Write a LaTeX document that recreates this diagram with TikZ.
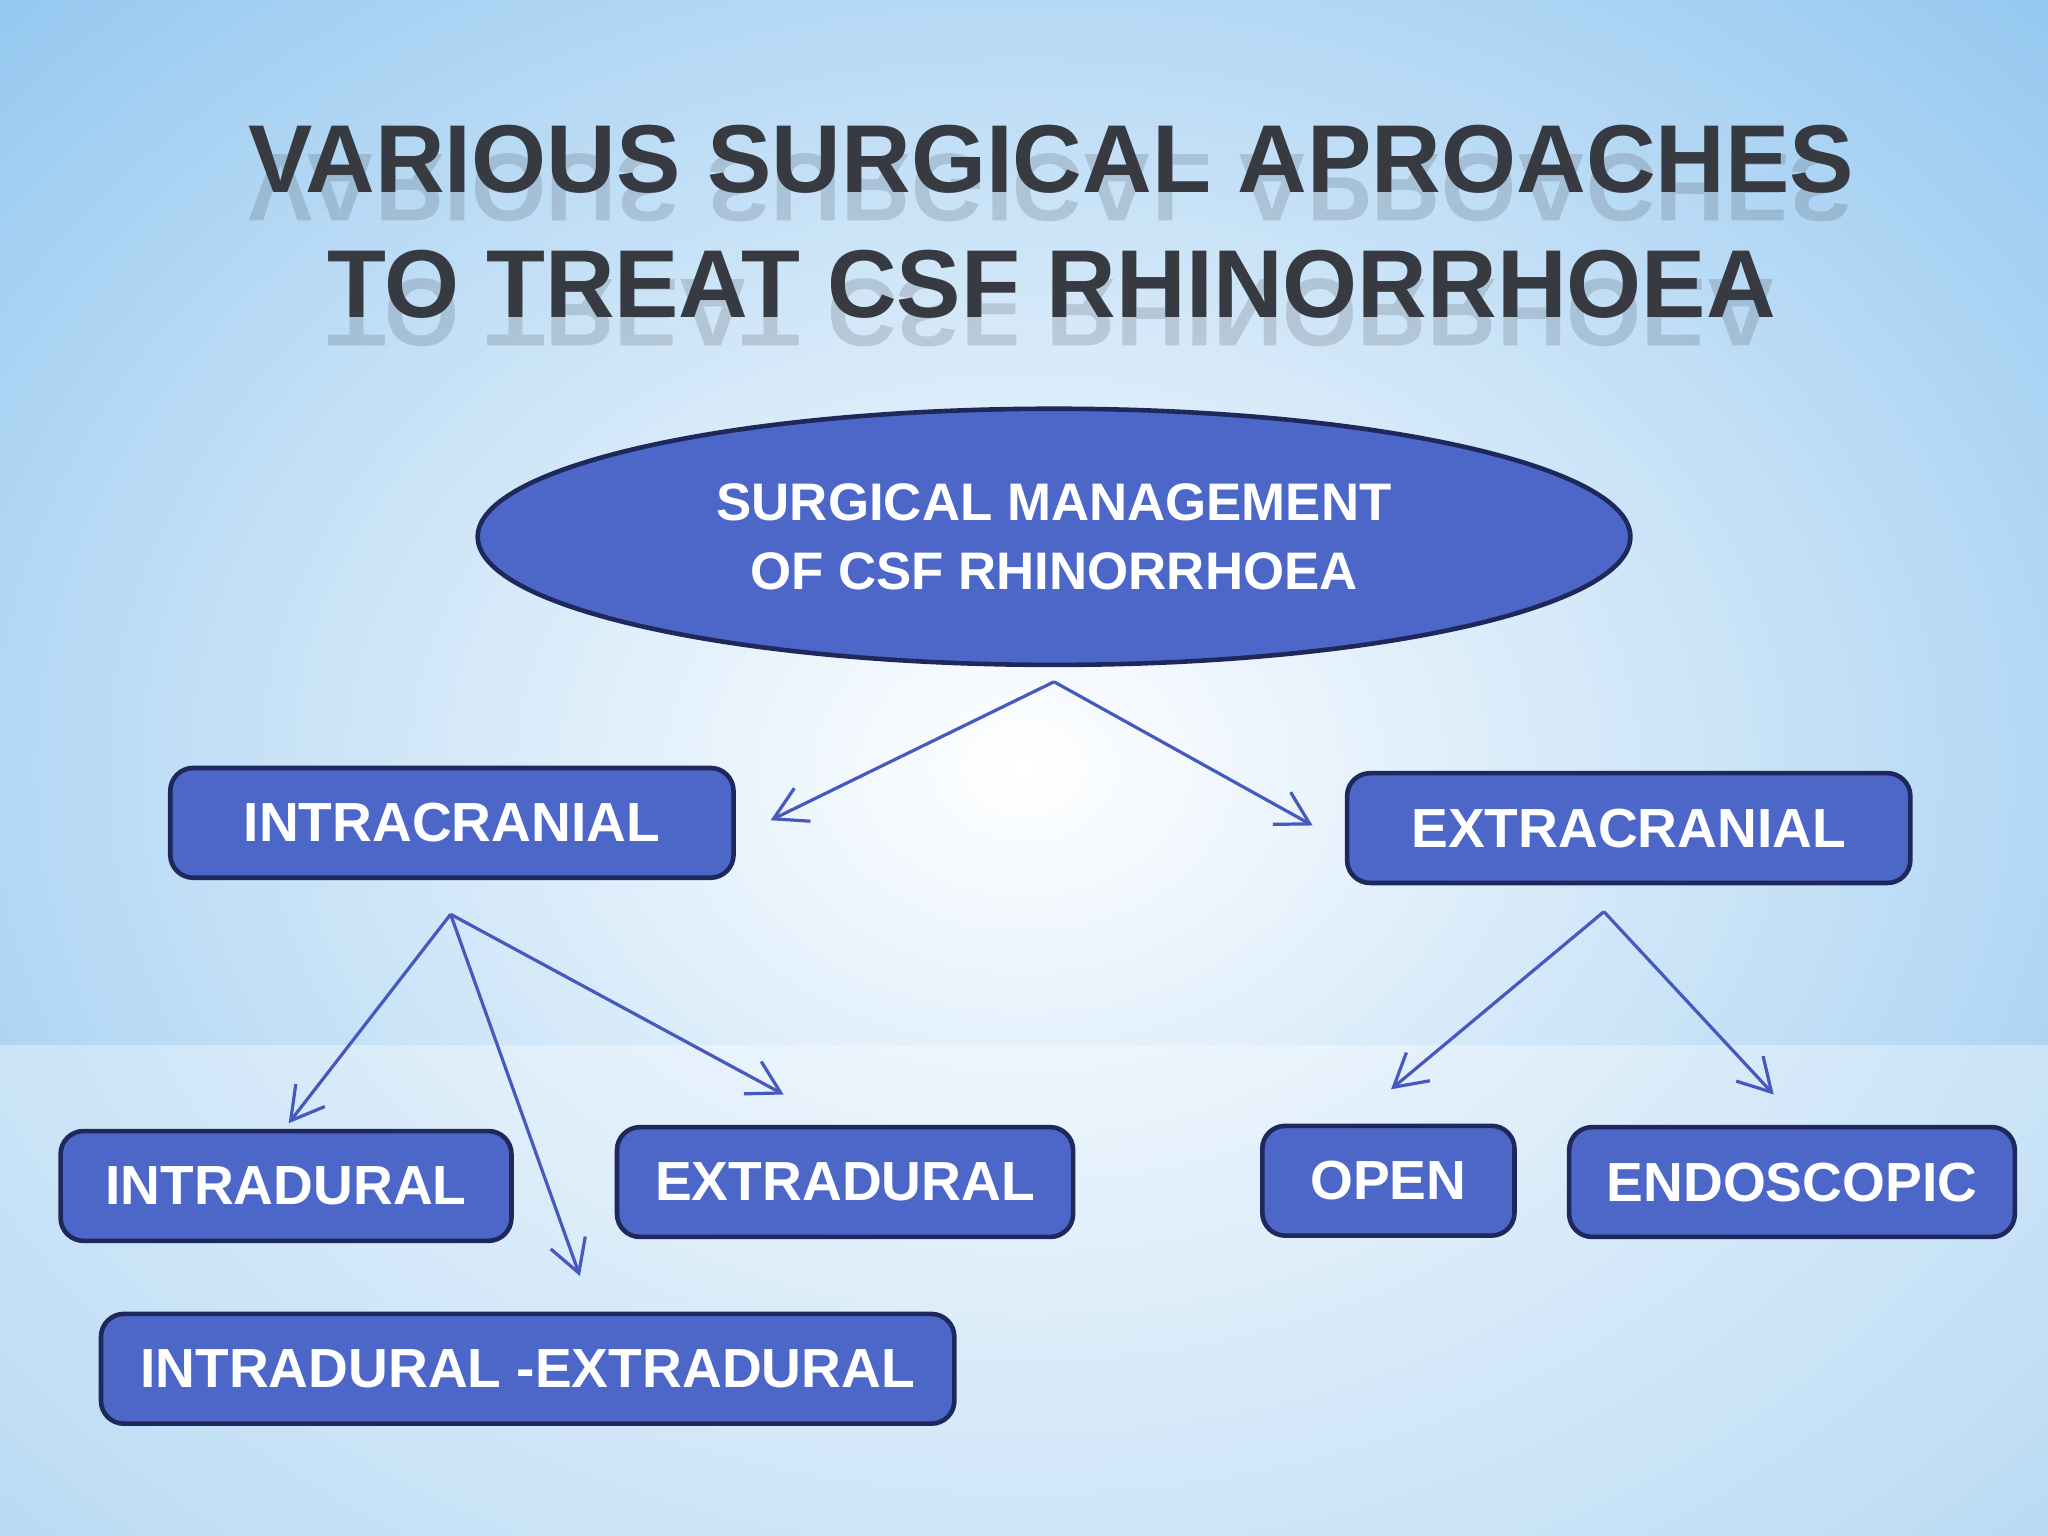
\documentclass[tikz,border=0pt]{standalone}
\usepackage{fontspec}
\setmainfont{Liberation Sans}
\usetikzlibrary{shapes.geometric,arrows.meta}
\definecolor{sky}{RGB}{150,200,240}
\definecolor{boxblue}{RGB}{76,103,200}
\definecolor{boxedge}{RGB}{30,40,90}
\definecolor{arr}{RGB}{70,90,190}
\definecolor{titlec}{RGB}{55,58,65}
\tikzset{
  box/.style={draw=boxedge,line width=1pt,fill=boxblue,rounded corners=5pt,minimum height=0.84cm,text=white,font=\bfseries\fontsize{12}{14}\selectfont},
  conn/.style={arr,line width=0.7pt,-{Straight Barb[length=7pt,width=8pt]}},
  ttl/.style={text=titlec,font=\bfseries\fontsize{21}{25}\selectfont}
}
\begin{document}
\begin{tikzpicture}[x=0.01cm,y=-0.01cm]
\useasboundingbox (0,0) rectangle (1568,1176);
\fill[sky] (0,0) rectangle (1568,1176);
\shade[inner color=white,outer color=sky] (-300,-250) rectangle (1868,1426);
\fill[white,opacity=0.35] (0,800) rectangle (1568,1176);
% title
\node[ttl] (t1) at (805,122) {VARIOUS SURGICAL APROACHES};
\node[ttl] (t2) at (805,218) {TO TREAT CSF RHINORRHOEA};
\node[ttl,opacity=0.18,yscale=-1,anchor=north] (t1r) at (805,182) {VARIOUS SURGICAL APROACHES};
\node[ttl,opacity=0.18,yscale=-1,anchor=north] (t2r) at (805,278) {TO TREAT CSF RHINORRHOEA};
% main
\node[ellipse,draw=boxedge,line width=1pt,fill=boxblue,minimum width=8.82cm,minimum height=1.96cm,text=white,align=center,font=\bfseries\fontsize{11.5}{15}\selectfont] (m) at (807,411) {SURGICAL MANAGEMENT\\OF CSF RHINORRHOEA};
\node[box,minimum width=4.31cm] (ic) at (346,630) {INTRACRANIAL};
\node[box,minimum width=4.31cm] (ec) at (1247,634) {EXTRACRANIAL};
\node[box,minimum width=3.45cm] (id) at (219,908) {INTRADURAL};
\node[box,minimum width=3.49cm] (ed) at (647,905) {EXTRADURAL};
\node[box,minimum width=6.53cm] (ie) at (404,1048) {INTRADURAL -EXTRADURAL};
\node[box,minimum width=1.93cm] (op) at (1063,904) {OPEN};
\node[box,minimum width=3.41cm] (en) at (1372,905) {ENDOSCOPIC};
% connector points
\coordinate (ms) at (807,522);
\coordinate (ics) at (345,700);
\coordinate (ecs) at (1228,698);
\coordinate (a1) at (590,628);
\coordinate (a2) at (1005,632);
\coordinate (b1) at (221,860);
\coordinate (b2) at (444,977);
\coordinate (b3) at (600,838);
\coordinate (c1) at (1065,834);
\coordinate (c2) at (1358,838);
\draw[conn] (ms) -- (a1);
\draw[conn] (ms) -- (a2);
\draw[conn] (ics) -- (b1);
\draw[conn] (ics) -- (b2);
\draw[conn] (ics) -- (b3);
\draw[conn] (ecs) -- (c1);
\draw[conn] (ecs) -- (c2);
\end{tikzpicture}
\end{document}
